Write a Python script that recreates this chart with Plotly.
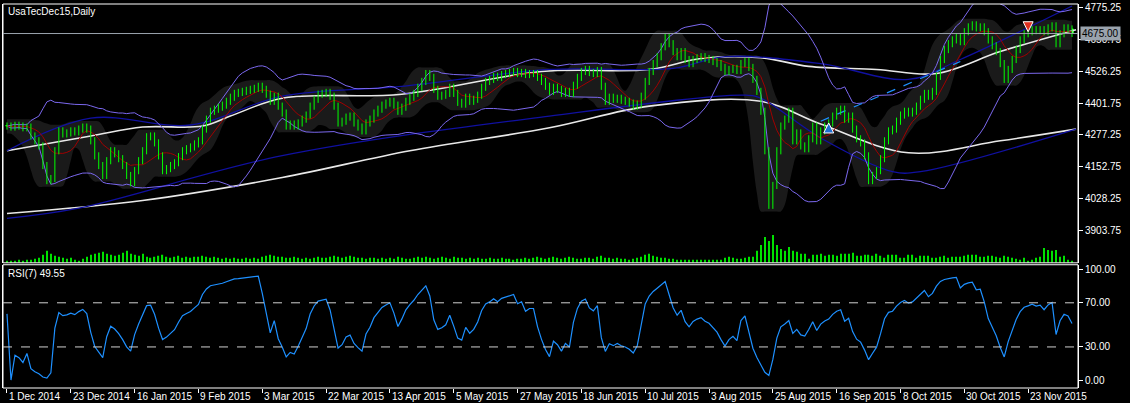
import numpy as np
import pandas as pd
import plotly.graph_objects as go

# daily closes (1 Dec 2014 .. 4 Dec 2015)
closes = [
    4312, 4308, 4315, 4312, 4305, 4308, 4273, 4254, 4234, 4157, 4098, 4106, 4215, 4293, 4281, 4285,
    4293, 4289, 4300, 4308, 4300, 4254, 4195, 4157, 4118, 4176, 4215, 4203, 4184, 4157, 4118, 4090,
    4137, 4176, 4215, 4270, 4273, 4246, 4195, 4137, 4145, 4157, 4168, 4192, 4215, 4223, 4230, 4242,
    4254, 4300, 4339, 4370, 4378, 4386, 4394, 4409, 4425, 4440, 4444, 4448, 4452, 4456, 4460, 4468,
    4456, 4437, 4409, 4429, 4390, 4363, 4312, 4320, 4312, 4324, 4339, 4355, 4390, 4417, 4437, 4440,
    4444, 4429, 4390, 4324, 4331, 4347, 4351, 4324, 4308, 4293, 4324, 4339, 4363, 4378, 4394, 4402,
    4409, 4394, 4370, 4386, 4409, 4425, 4440, 4464, 4487, 4518, 4503, 4456, 4429, 4433, 4440, 4464,
    4440, 4405, 4398, 4425, 4409, 4417, 4433, 4464, 4487, 4495, 4507, 4503, 4514, 4518, 4522, 4526,
    4518, 4522, 4514, 4518, 4518, 4503, 4487, 4468, 4448, 4464, 4456, 4440, 4448, 4440, 4472, 4503,
    4526, 4534, 4522, 4518, 4530, 4468, 4409, 4425, 4417, 4421, 4413, 4409, 4402, 4390, 4398, 4429,
    4487, 4526, 4557, 4584, 4623, 4662, 4635, 4604, 4584, 4604, 4573, 4557, 4573, 4580, 4584, 4577,
    4573, 4565, 4557, 4542, 4526, 4534, 4538, 4530, 4557, 4565, 4542, 4495, 4448, 4370, 4215, 4001,
    4079, 4215, 4312, 4339, 4370, 4254, 4285, 4234, 4223, 4262, 4312, 4254, 4293, 4312, 4324, 4351,
    4370, 4378, 4339, 4351, 4300, 4262, 4246, 4195, 4098, 4118, 4137, 4184, 4254, 4293, 4300, 4331,
    4355, 4370, 4363, 4370, 4390, 4417, 4440, 4429, 4448, 4507, 4573, 4612, 4635, 4650, 4662, 4643,
    4682, 4701, 4709, 4697, 4701, 4682, 4650, 4627, 4604, 4557, 4495, 4534, 4573, 4612, 4650, 4674,
    4682, 4690, 4686, 4690, 4682, 4697, 4705, 4635, 4674, 4697, 4693, 4675,
]

volume = [
    2, 2, 2, 3, 2, 3, 3, 4, 5, 8, 12, 9, 7, 6, 5, 4,
    5, 3, 2, 4, 6, 8, 9, 10, 11, 9, 8, 7, 8, 10, 12, 9,
    8, 7, 9, 6, 5, 6, 7, 8, 6, 5, 6, 7, 5, 6, 5, 6,
    6, 7, 6, 5, 6, 5, 4, 5, 4, 5, 4, 4, 5, 4, 5, 4,
    6, 7, 8, 7, 6, 6, 5, 5, 6, 5, 4, 5, 4, 5, 6, 5,
    5, 6, 7, 6, 5, 6, 7, 6, 5, 5, 4, 5, 5, 4, 5, 4,
    5, 4, 6, 5, 4, 4, 5, 6, 5, 6, 5, 4, 5, 6, 5, 4,
    6, 5, 5, 4, 5, 4, 5, 4, 4, 5, 4, 4, 5, 4, 4, 3,
    4, 4, 5, 4, 5, 6, 5, 4, 5, 6, 5, 4, 5, 6, 5, 4,
    4, 5, 5, 4, 6, 7, 5, 5, 4, 5, 4, 4, 3, 4, 5, 6,
    8, 9, 7, 6, 5, 5, 4, 4, 3, 3, 3, 3, 3, 3, 3, 3,
    3, 3, 3, 3, 5, 6, 5, 4, 4, 5, 6, 6, 12, 18, 26, 22,
    28, 18, 14, 12, 16, 12, 11, 9, 9, 4, 8, 8, 9, 7, 8, 8,
    7, 9, 9, 9, 10, 7, 7, 8, 8, 7, 9, 7, 5, 8, 8, 8,
    5, 5, 8, 8, 5, 7, 7, 7, 5, 5, 6, 7, 5, 6, 6, 6,
    7, 8, 8, 8, 6, 6, 7, 7, 6, 5, 7, 6, 5, 4, 3, 5,
    2, 3, 5, 6, 15, 13, 12, 13, 6, 7, 3, 2,
]

# long moving averages read at a few bar positions
slow_white_idx = [0, 34, 69, 101, 136, 161, 189, 204, 226, 249, 268]
slow_white = [3969, 4020, 4110, 4215, 4305, 4390, 4409, 4320, 4207, 4254, 4300]
fast_white_idx = [0, 21, 34, 49, 56, 69, 99, 134, 161, 174, 189, 201, 218, 233, 249, 268]
fast_white = [4215, 4273, 4308, 4312, 4351, 4421, 4437, 4526, 4534, 4577, 4580, 4546, 4534, 4518, 4604, 4690]
navy_a_idx = [0, 21, 46, 69, 99, 136, 167, 180, 204, 226, 239, 267]
navy_a = [4215, 4343, 4316, 4429, 4468, 4534, 4538, 4584, 4557, 4495, 4573, 4783]
navy_b_idx = [0, 18, 69, 136, 185, 189, 204, 222, 229, 268]
navy_b = [3950, 3990, 4196, 4351, 4433, 4421, 4265, 4133, 4133, 4300]

dates = ['1 Dec 2014', '23 Dec 2014', '16 Jan 2015', '9 Feb 2015', '3 Mar 2015', '22 Mar 2015',
         '13 Apr 2015', '5 May 2015', '27 May 2015', '18 Jun 2015', '10 Jul 2015', '3 Aug 2015',
         '25 Aug 2015', '16 Sep 2015', '8 Oct 2015', '30 Oct 2015', '23 Nov 2015']
price_ticks = [4775.25, 4650.75, 4526.25, 4401.75, 4277.25, 4152.75, 4028.25, 3903.75]
rsi_ticks = [100, 70, 30, 0]

n = len(closes)
x = np.arange(n)
c = pd.Series(closes, dtype=float)
o = c.shift(1).fillna(c.iloc[0])
top = np.maximum(o, c)
bot = np.minimum(o, c)
hi = top + 14
lo = bot - 14

# indicators
ma = c.rolling(20, min_periods=1).mean()
sd = c.rolling(20, min_periods=1).std().fillna(0)
bb_up, bb_dn = ma + 2 * sd, ma - 2 * sd
red = c.rolling(8, min_periods=1).mean()
env_up = pd.Series(hi).rolling(7, center=True, min_periods=1).max().rolling(3, center=True, min_periods=1).mean() + 10
env_dn = pd.Series(lo).rolling(7, center=True, min_periods=1).min().rolling(3, center=True, min_periods=1).mean() - 10
d = c.diff()
gain = d.clip(lower=0).ewm(alpha=1 / 7, adjust=False).mean()
loss = (-d.clip(upper=0)).ewm(alpha=1 / 7, adjust=False).mean()
rsi = 100 - 100 / (1 + gain / loss.replace(0, np.nan))
rsi = rsi.fillna(60)

fig = go.Figure()

# gray envelope
fig.add_trace(go.Scatter(x=x, y=env_up, mode='lines', line=dict(width=0, shape='spline'), hoverinfo='skip'))
fig.add_trace(go.Scatter(x=x, y=env_dn, mode='lines', line=dict(width=0, shape='spline'), fill='tonexty',
                         fillcolor='rgb(26,26,26)', hoverinfo='skip'))

# volume
fig.add_trace(go.Bar(x=x, y=volume, marker_color='#00e000', marker_line_width=0, width=0.3, yaxis='y3'))

line_specs = [
    (slow_white_idx, slow_white, '#e8e8e8', 1.6),
    (fast_white_idx, fast_white, '#e8e8e8', 1.6),
    (navy_a_idx, navy_a, '#1010a0', 1.3),
    (navy_b_idx, navy_b, '#1010a0', 1.3),
]
for xi, yi, col, w in line_specs:
    fig.add_trace(go.Scatter(x=xi, y=yi, mode='lines', line=dict(color=col, width=w, shape='spline')))

fig.add_trace(go.Scatter(x=x, y=bb_up, mode='lines', line=dict(color='#7b68ee', width=1)))
fig.add_trace(go.Scatter(x=x, y=bb_dn, mode='lines', line=dict(color='#7b68ee', width=1)))
fig.add_trace(go.Scatter(x=x, y=red, mode='lines', line=dict(color='#a00000', width=1)))

# dashed trend line
fig.add_trace(go.Scatter(x=[204, 239], y=[4331, 4565], mode='lines',
                         line=dict(color='#1e90ff', width=1.2, dash='dash')))

# candles: wicks then bodies
wx, wy = [], []
for i in range(n):
    wx += [i, i, None]
    wy += [lo[i], hi[i], None]
fig.add_trace(go.Scatter(x=wx, y=wy, mode='lines', line=dict(color='#00ff00', width=1), hoverinfo='skip'))
body_h = np.maximum(top - bot, 2)
body_fill = np.where(c >= o, '#000000', '#ffffff')
fig.add_trace(go.Bar(x=x, y=body_h, base=bot, width=0.65, marker=dict(color=body_fill,
                     line=dict(color='#00ff00', width=1)), yaxis='y'))

# arrows
fig.add_trace(go.Scatter(x=[206], y=[4324], mode='markers',
                         marker=dict(symbol='arrow-up', size=10, color='#1e6fd0', line=dict(color='white', width=1))))
fig.add_trace(go.Scatter(x=[256], y=[4682], mode='markers',
                         marker=dict(symbol='arrow-down', size=10, color='#e03020', line=dict(color='white', width=1))))

# RSI
fig.add_trace(go.Scatter(x=x, y=rsi, mode='lines', line=dict(color='#1e90ff', width=1.2), yaxis='y2'))

font = dict(family='Liberation Sans', size=10, color='white')
fig.update_layout(
    width=1130, height=403, showlegend=False, barmode='overlay',
    paper_bgcolor='black', plot_bgcolor='black',
    margin=dict(l=2, r=52, t=2, b=15),
    font=font,
    xaxis=dict(range=[-1, n + 0.5], showgrid=False, zeroline=False, showticklabels=False,
               tickvals=list(range(0, n, 16)), ticks='outside', ticklen=4, tickcolor='white',
               showline=False, anchor='y2'),
    yaxis=dict(domain=[0.326, 1], range=[3775.4, 4790.8], side='right', showgrid=False,
               zeroline=False, tickvals=price_ticks, ticktext=[f'{v:.2f}' for v in price_ticks],
               ticks='outside', ticklen=4, tickcolor='white', showline=True, linecolor='white',
               mirror=True),
    yaxis2=dict(domain=[0, 0.321], range=[-7.2, 104.5], side='right', showgrid=False,
                zeroline=False, tickvals=rsi_ticks, ticktext=[f'{v:.2f}' for v in rsi_ticks],
                ticks='outside', ticklen=4, tickcolor='white', showline=True, linecolor='white',
                mirror=True),
    yaxis3=dict(overlaying='y', range=[0, 260], visible=False),
)

# frame lines for the panes
fig.add_shape(type='rect', xref='paper', yref='paper', x0=0, x1=1, y0=0.326, y1=1,
              line=dict(color='white', width=1))
fig.add_shape(type='rect', xref='paper', yref='paper', x0=0, x1=1, y0=0, y1=0.321,
              line=dict(color='white', width=1))

# current price line + label
fig.add_shape(type='line', xref='paper', yref='y', x0=0, x1=1, y0=4675, y1=4675,
              line=dict(color='#9aa3ad', width=1))
fig.add_annotation(xref='paper', yref='y', x=1.002, y=4675, text='4675.00', showarrow=False,
                   xanchor='left', bgcolor='#9aa3ad', font=dict(color='black', size=10, family='Liberation Sans'))

# RSI levels
for lv in (70, 30):
    fig.add_shape(type='line', xref='paper', yref='y2', x0=0, x1=1, y0=lv, y1=lv,
                  line=dict(color='#d0d0d0', width=1, dash='dash'))

# date labels
for i, t in enumerate(dates):
    fig.add_annotation(xref='x', yref='paper', x=i * 16, y=0, yshift=-1, text=t, showarrow=False,
                       xanchor='left', yanchor='top', font=font)

fig.add_annotation(xref='paper', yref='paper', x=0.003, y=1, text='UsaTecDec15,Daily', showarrow=False,
                   xanchor='left', yanchor='top', font=font)
fig.add_annotation(xref='paper', yref='paper', x=0.003, y=0.318, text='RSI(7) 49.55', showarrow=False,
                   xanchor='left', yanchor='top', font=font)

fig.write_html('out.html', config={'displayModeBar': False},
               post_script="document.body.style.margin='0';")
